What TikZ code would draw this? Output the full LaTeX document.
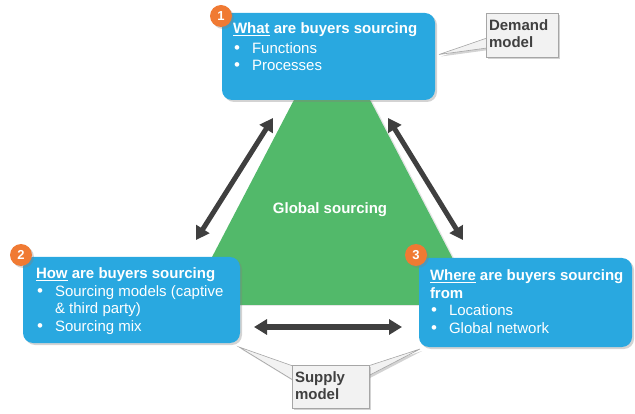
\documentclass[tikz,border=0pt]{standalone}
\usepackage{fontspec}
\setmainfont{Liberation Sans}
\usepackage{tikz}
\usetikzlibrary{arrows.meta}
\usetikzlibrary{shadows}
\usetikzlibrary{positioning}
\definecolor{boxblue}{RGB}{41,168,224}
\definecolor{trigreen}{RGB}{82,185,106}
\definecolor{badgeorange}{RGB}{240,122,51}
\definecolor{arrowgray}{RGB}{63,63,63}
\definecolor{notefill}{RGB}{242,242,242}
\definecolor{noteline}{RGB}{166,166,166}
\definecolor{notetext}{RGB}{64,64,64}
\newcommand{\bitem}{\makebox[19pt][l]{\hspace{1pt}\fontsize{17}{17}\selectfont\textbullet}}
\newcommand{\bcont}{\hspace*{19pt}}
\newcommand{\ulword}[1]{\setbox0\hbox{#1}\rlap{\rule[-2.5pt]{\wd0}{1.3pt}}\box0\relax}
\tikzset{
    common/.style={anchor=north west, inner sep=0pt, outer sep=0pt},
    soft shadow/.style={drop shadow={opacity=0.35, shadow xshift=2pt, shadow yshift=-2pt}},
    sourcebox/.style={common, fill=boxblue, rounded corners=10pt, soft shadow},
    boxtext/.style={common, text=white, align=left, font=\fontsize{15}{17.5}\selectfont},
    badge/.style={circle, fill=badgeorange, text=white, minimum size=22pt, inner sep=0pt,
        font=\fontsize{13}{13}\selectfont\bfseries, soft shadow},
    note/.style={common, fill=notefill, draw=noteline, line width=0.6pt, soft shadow},
    notetext/.style={common, text=notetext, align=left, font=\fontsize{15}{17}\selectfont\bfseries},
    pointer/.style={fill=notefill, draw=noteline, line width=0.6pt, soft shadow},
    dblarrow/.style={draw=arrowgray, line width=5pt,
        {Triangle[length=13pt,width=15pt]}-{Triangle[length=13pt,width=15pt]}},
}

\begin{document}
\begin{tikzpicture}[x=1pt, y=-1pt]
    \useasboundingbox (0,0) rectangle (635,414);

    % triangle in the middle
    \fill[trigreen, drop shadow={opacity=0.2, shadow xshift=2pt, shadow yshift=-1pt}]
        (332,27) -- (187,305) -- (477,305) -- cycle;
    \node[font=\fontsize{15}{15}\selectfont\bfseries, text=white] (centre) at (330,210) {Global sourcing};

    % the three questions
    \node[sourcebox, minimum width=213pt, minimum height=87pt] (what) at (222,13) {};
    \node[boxtext] (what-text) at ([shift={(11,10)}]what.north west)
        {\textbf{\ulword{What} are buyers sourcing}\\[2pt]
         \bitem Functions\\
         \bitem Processes};
    \node[badge] (what-badge) at ([shift={(-1,3)}]what.north west) {1};

    \node[sourcebox, minimum width=217pt, minimum height=86pt] (how) at (23,257) {};
    \node[boxtext] (how-text) at ([shift={(13,11)}]how.north west)
        {\textbf{\ulword{How} are buyers sourcing}\\
         \bitem Sourcing models (captive\\
         \bcont\&~third party)\\
         \bitem Sourcing mix};
    \node[badge] (how-badge) at ([shift={(-2,-2)}]how.north west) {2};

    \node[sourcebox, minimum width=213pt, minimum height=89pt] (where) at (419,258) {};
    \node[boxtext] (where-text) at ([shift={(11,12)}]where.north west)
        {\textbf{\ulword{Where} are buyers sourcing}\\
         \textbf{from}\\
         \bitem Locations\\
         \bitem Global network};
    \node[badge] (where-badge) at ([shift={(-3,-3)}]where.north west) {3};

    % arrows between the questions
    \draw[dblarrow] ([shift={(51,18)}]what.south west) -- ([shift={(-44,-17)}]how.north east);
    \draw[dblarrow] ([shift={(-47,18)}]what.south east) -- ([shift={(44,-18)}]where.north west);
    \draw[dblarrow] ([shift={(14,-16)}]how.south east) -- ([shift={(-17,-20)}]where.south west);

    % callouts
    \coordinate (demand-corner) at (486,13);
    \coordinate (supply-corner) at (292,365);
    \path[pointer] ([shift={(4,-2)}]what.east) -- ([shift={(1,25)}]demand-corner)
        -- ([shift={(1,35)}]demand-corner) -- cycle;
    \path[pointer] ([shift={(-1,4)}]how.south east) -- ([shift={(1,1)}]supply-corner)
        -- ([shift={(1,15)}]supply-corner) -- cycle;
    \path[pointer] ([shift={(1,2)}]where.south west) -- ([shift={(76,1)}]supply-corner)
        -- ([shift={(76,11)}]supply-corner) -- cycle;

    \node[note, minimum width=72pt, minimum height=44pt] (demand) at (demand-corner) {};
    \node[notetext] (demand-text) at ([shift={(3,7)}]demand.north west) {Demand\\model};

    \node[note, minimum width=77pt, minimum height=43pt] (supply) at (supply-corner) {};
    \node[notetext] (supply-text) at ([shift={(3,7)}]supply.north west) {Supply\\model};
\end{tikzpicture}
\end{document}
